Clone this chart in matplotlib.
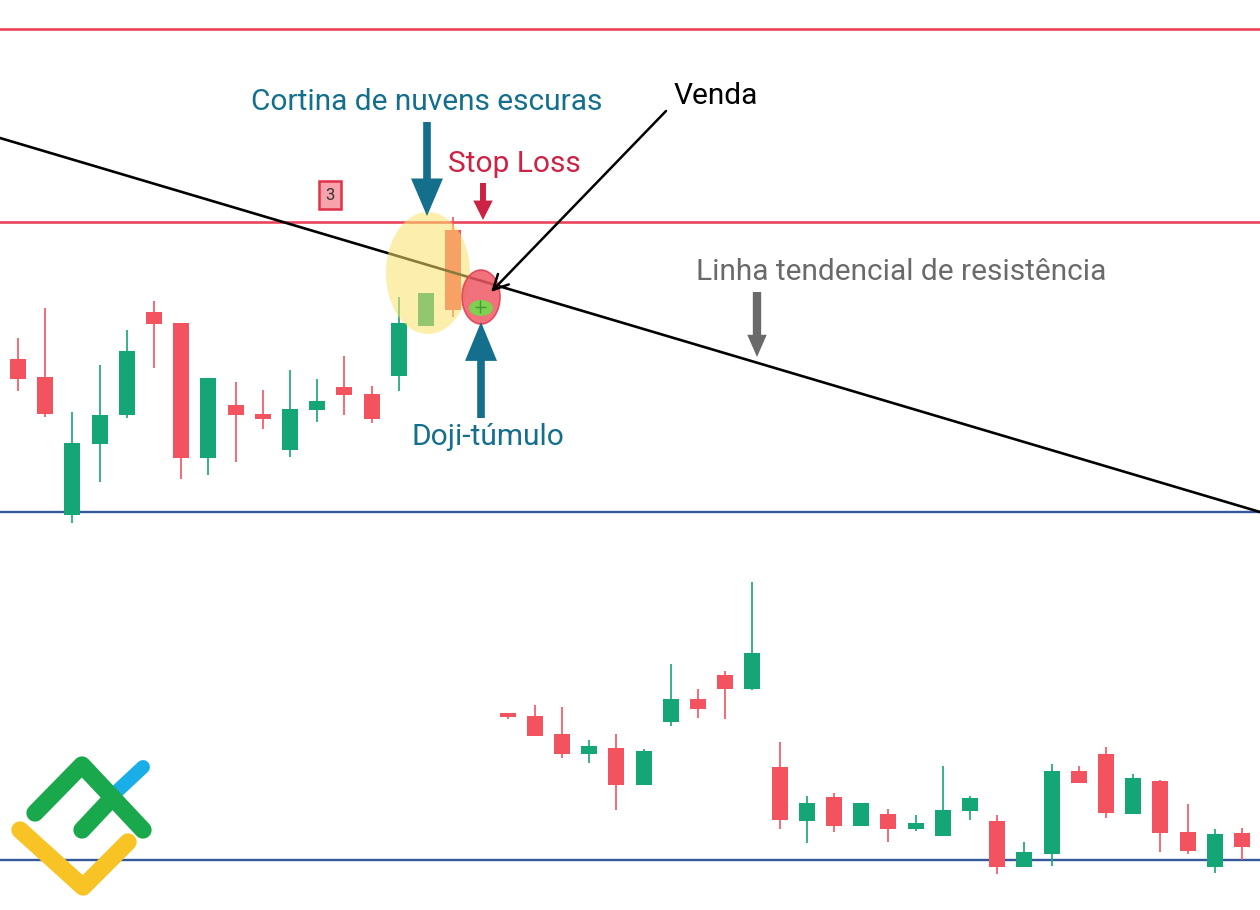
import matplotlib
matplotlib.use("Agg")
from matplotlib import pyplot as plt
from matplotlib.patches import Ellipse
import numpy as np

plt.rcParams['font.family'] = ['Roboto', 'DejaVu Sans']

# velas do painel superior (indices 0-17, a ultima e o doji)
topIdx = np.arange(18)
topOpen = [551, 533, 395, 466, 495, 598, 587, 452, 505, 496, 460, 500, 523, 516, 534, 584, 680, 601]
topHigh = [572, 602, 498, 545, 580, 609, 587, 532, 528, 520, 540, 531, 554, 524, 613, 617, 693, 610]
topLow = [519, 493, 387, 428, 492, 542, 431, 435, 448, 481, 453, 488, 495, 487, 519, 584, 593, 597]
topClose = [531, 496, 467, 495, 559, 586, 452, 532, 495, 491, 501, 509, 515, 491, 587, 617, 600, 603]

# velas do painel inferior (indices 18-45)
botIdx = np.arange(18, 46)
botOpen = [197, 194, 176, 156, 162, 125, 188, 211, 235, 221, 143, 89, 113, 84, 96, 81, 74, 99, 89, 43,
           56, 139, 156, 96, 129, 78, 43, 77]
botHigh = [197, 205, 203, 170, 176, 161, 246, 221, 239, 328, 168, 114, 117, 107, 101, 95, 144, 114, 95, 68,
           146, 144, 163, 136, 130, 106, 81, 82]
botLow = [191, 174, 152, 147, 100, 125, 184, 192, 191, 220, 81, 67, 78, 84, 68, 79, 74, 90, 36, 43,
          44, 127, 92, 96, 58, 56, 37, 50]
botClose = [193, 174, 156, 164, 125, 159, 211, 201, 221, 257, 90, 107, 84, 107, 81, 87, 100, 112, 43, 58,
            139, 127, 97, 132, 77, 59, 76, 63]

redLevels = [881, 688]      # linhas de resistencia / stop loss
blueLevels = [398, 50]      # linhas de suporte
trendLevels = [772, 398]    # linha tendencial (inicio, fim)

RED = '#f3525f'
GREEN = '#14a677'
TEAL = '#146f8d'

# escala: 1 barra = 27.2 px, 1 unidade de preco = 1 px
X0, X1 = -18 / 27.2, (1260 - 18) / 27.2


def px(x, y):
    # converte pixel da imagem em coordenadas (barra, preco)
    return (x - 18) / 27.2, 910 - y


def candles(ax, idx, o, h, l, c, z=3):
    o, h, l, c = map(np.asarray, (o, h, l, c))
    cols = np.where(c >= o, GREEN, RED)
    ax.vlines(idx, l, h, colors=cols, linewidth=1.2, zorder=z)
    ax.bar(idx, np.maximum(np.abs(c - o), 2), bottom=np.minimum(o, c), width=0.59,
           color=cols, zorder=z)


fig = plt.figure(figsize=(12.6, 9.1), dpi=100)
ax = fig.add_axes([0, 0, 1, 1])
ax.set_xlim(X0, X1)
ax.set_ylim(0, 910)
ax.axis('off')

for lv in redLevels:
    ax.axhline(lv, color='#e8455a', linewidth=1.9, zorder=2)
for lv in blueLevels:
    ax.axhline(lv, color='#34589a', linewidth=1.7, zorder=2)

candles(ax, topIdx[:-1], topOpen[:-1], topHigh[:-1], topLow[:-1], topClose[:-1])
candles(ax, botIdx, botOpen, botHigh, botLow, botClose)

ax.plot([X0, X1], trendLevels, color='black', linewidth=1.9, zorder=4)

# destaque amarelo (cortina de nuvens escuras)
ax.add_patch(Ellipse(px(428, 273), 84 / 27.2, 122, facecolor='#fbe36b', alpha=0.55,
                     edgecolor='none', zorder=5))
# destaque vermelho do doji
ax.add_patch(Ellipse(px(481, 297), 38 / 27.2, 54, facecolor='#ef5966', alpha=0.85,
                     edgecolor='#e23a50', linewidth=1.2, zorder=6))
ax.add_patch(Ellipse(px(481, 308), 24 / 27.2, 16, facecolor='#7fd04e', edgecolor='none', zorder=7))
ax.vlines(topIdx[-1], topLow[-1], topHigh[-1], color='#3f9a3a', linewidth=1, zorder=8)
ax.hlines(topClose[-1], topIdx[-1] - 0.2, topIdx[-1] + 0.2, color='#3f9a3a', linewidth=1, zorder=8)


def arrow(start, end, color, hl, hw, tw):
    ax.annotate('', xy=px(*end), xytext=px(*start), zorder=9,
                arrowprops=dict(arrowstyle='simple,head_length=%g,head_width=%g,tail_width=%g' % (hl, hw, tw),
                                mutation_scale=1, color=color, shrinkA=0, shrinkB=0, linewidth=0))


arrow((427, 122), (427, 216), TEAL, 27, 23, 5.5)
arrow((483, 183), (483, 220), '#cc2244', 14, 14, 4.3)
arrow((757, 292), (757, 357), '#6a6a6a', 16, 14, 6)
arrow((481, 418), (481, 322), TEAL, 28, 23, 5.5)

ax.annotate('', xy=px(491, 292), xytext=px(666, 111), zorder=9,
            arrowprops=dict(arrowstyle='->,head_length=0.9,head_width=0.45', mutation_scale=12,
                            color='black', linewidth=1.8, shrinkA=0, shrinkB=0))

FS = 21.5
ax.text(*px(427, 102), 'Cortina de nuvens escuras', color=TEAL, fontsize=FS, ha='center', va='center')
ax.text(*px(514, 164), 'Stop Loss', color='#cc2244', fontsize=FS, ha='center', va='center')
ax.text(*px(716, 96), 'Venda', color='black', fontsize=FS, ha='center', va='center')
ax.text(*px(901, 272), 'Linha tendencial de resistência', color='#6a6a6a', fontsize=FS,
        ha='center', va='center')
ax.text(*px(488, 437), 'Doji-túmulo', color=TEAL, fontsize=FS, ha='center', va='center')
ax.text(*px(330, 195), '3', color='#333333', fontsize=12, ha='center', va='center', zorder=9,
        bbox=dict(boxstyle='square,pad=0.4', facecolor='#f7a3ab', edgecolor='#e0304a', linewidth=1.8))

# logotipo no canto inferior esquerdo (coordenadas em pixel)
lg = fig.add_axes([0, 0, 1, 1], facecolor='none')
lg.set_xlim(0, 1260)
lg.set_ylim(910, 0)
lg.axis('off')
lg.plot([20, 83, 128], [830, 887, 842], color='#f7c325', linewidth=12.5, solid_capstyle='round',
        solid_joinstyle='round', zorder=1)
lg.plot([113, 143], [795, 767], color='#1aaee8', linewidth=10, solid_capstyle='round', zorder=2)
lg.plot([35, 82, 143], [813, 765, 830], color='#1aa84c', linewidth=12.5, solid_capstyle='round',
        solid_joinstyle='round', zorder=3)
lg.plot([82, 112], [830, 798], color='#1aa84c', linewidth=12.5, solid_capstyle='round', zorder=3)

fig.savefig('out.png', dpi=100)
